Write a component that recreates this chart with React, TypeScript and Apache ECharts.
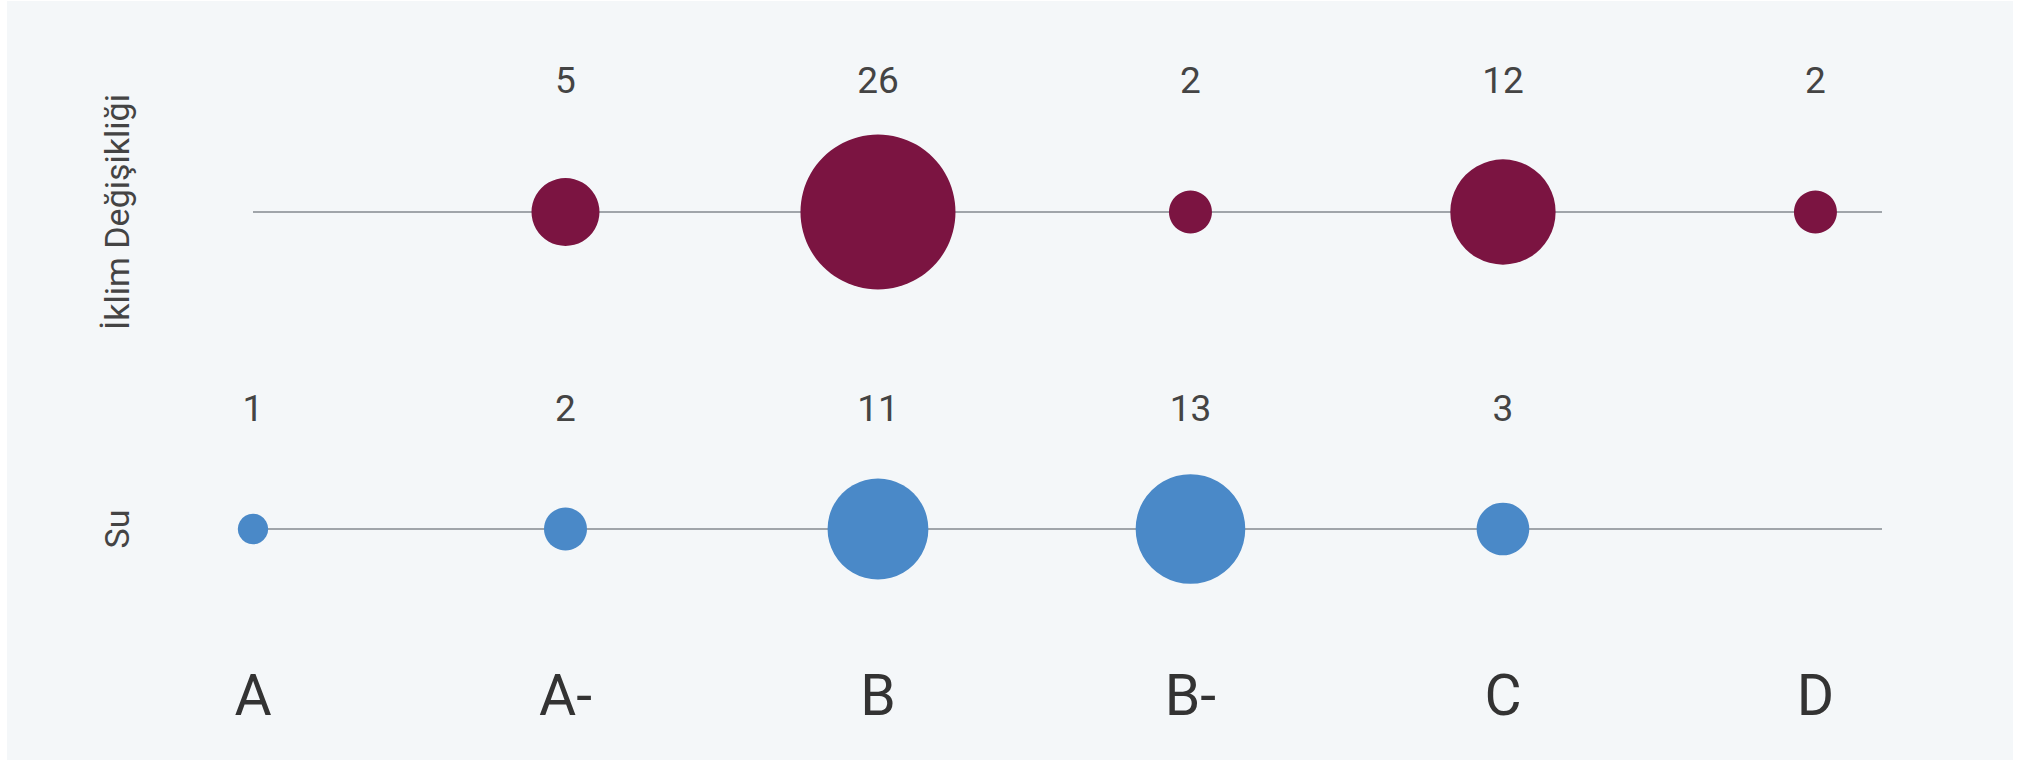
import React, { useEffect, useRef } from "react";
import * as echarts from "echarts";

const categories = ["A", "A-", "B", "B-", "C", "D"];
const rowNames = ["Su", "İklim Değişikliği"];
const iklimValues: (number | null)[] = [null, 5, 26, 2, 12, 2];
const suValues: (number | null)[] = [1, 2, 11, 13, 3, null];

const X_MAX = 5.213;
const SIZE_K = 30.4;

function toPoints(values: (number | null)[], row: string) {
  const out: any[] = [];
  values.forEach((v, i) => {
    if (v !== null) out.push({ value: [i, row, v] });
  });
  return out;
}

export default function App() {
  const ref = useRef<HTMLDivElement>(null);
  useEffect(() => {
    if (!ref.current) return;
    const chart = echarts.init(ref.current, null, { renderer: "svg" });
    const fontFamily = "Roboto";
    const bubble = (name: string, values: (number | null)[], color: string, offsetY: number) => ({
      type: "scatter",
      name,
      z: 3,
      data: toPoints(values, name),
      symbol: "circle",
      symbolSize: (val: any) => SIZE_K * Math.sqrt(val[2]),
      itemStyle: { color, opacity: 1 },
      label: {
        show: true,
        position: "inside",
        offset: [0, offsetY],
        formatter: (p: any) => String(p.value[2]),
        fontFamily,
        fontSize: 37,
        color: "#444",
      },
    });
    const rowLine = (name: string) => ({
      type: "line",
      z: 1,
      data: [
        [0, name],
        [X_MAX, name],
      ],
      symbol: "none",
      silent: true,
      lineStyle: { color: "#a0a5aa", width: 2 },
    });
    chart.setOption({
      animation: false,
      backgroundColor: "#ffffff",
      graphic: [
        {
          type: "rect",
          z: -10,
          silent: true,
          shape: { x: 7, y: 1, width: 2006, height: 759 },
          style: { fill: "#f4f7f9" },
        },
      ],
      grid: { left: 253, right: 136, top: 53.5, bottom: 72.5 },
      xAxis: {
        type: "value",
        min: 0,
        max: X_MAX,
        interval: 1,
        axisLine: { show: false },
        axisTick: { show: false },
        splitLine: { show: false },
        axisLabel: {
          showMaxLabel: false,
          margin: 7.5,
          verticalAlign: "middle",
          fontFamily,
          fontSize: 57,
          color: "#333",
          formatter: (v: number) => (Number.isInteger(v) ? categories[v] ?? "" : ""),
        },
      },
      yAxis: {
        type: "category",
        data: rowNames,
        boundaryGap: true,
        axisLine: { show: false },
        axisTick: { show: false },
        splitLine: { show: false },
        axisLabel: {
          rotate: 90,
          margin: 119,
          fontFamily,
          fontSize: 34,
          color: "#444",
        },
      },
      series: [
        rowLine(rowNames[1]),
        rowLine(rowNames[0]),
        bubble(rowNames[1], iklimValues, "#7b1441", -132),
        bubble(rowNames[0], suValues, "#4a89c8", -121),
      ],
    });
    return () => chart.dispose();
  }, []);
  return (
    <div style={{ position: "fixed", left: 0, top: 0, width: 2018, height: 760 }}>
      <div ref={ref} style={{ width: 2018, height: 760 }} />
    </div>
  );
}
